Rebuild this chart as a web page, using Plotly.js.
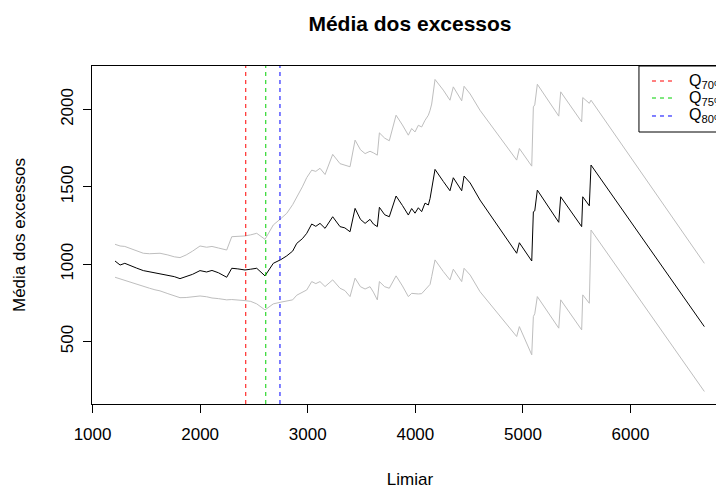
<!DOCTYPE html>
<html>
<head>
<meta charset="utf-8">
<script src="https://cdn.plot.ly/plotly-3.0.1.min.js"></script>
<style>html,body{margin:0;padding:0;overflow:hidden;background:#fff;width:716px;height:489px}#chart{width:760px;height:489px}</style>
</head>
<body>
<div id="chart"></div>
<script>
// Limiar (threshold) values
var limiar = [1209,1256,1300,1350,1410,1472,1530,1580,1627,1700,1760,1813,1870,1930,1999,2060,2110,2170,2247,2294,2350,2417,2470,2526,2603,2680,2750,2805,
  2860,2898,2950,2991,3037,3075,3114,3161,3232,3300,3345,3393,3440,3490,3533,3579,3610,3647,3666,3715,3758,3821,3880,3935,3966,3997,4028,4059,4090,4121,4137,4152,4183,4260,4322,4353,4431,4453,4510,4601,
  4942,4967,5082,5097,5110,5134,5333,5351,5546,5556,5617,5633,6686];
// Média dos excessos
var media = [1021,995,1006,990,975,959,952,945,937,930,920,907,920,935,959,950,960,945,916,974,970,963,968,974,925,1006,1030,1054,
  1085,1135,1165,1200,1260,1245,1264,1232,1307,1243,1235,1210,1361,1290,1264,1290,1260,1243,1368,1320,1307,1441,1380,1318,1360,1330,1365,1340,1395,1383,1425,1478,1613,1535,1475,1559,1475,1570,1525,1415,
  1071,1139,1021,1339,1345,1479,1271,1436,1243,1436,1378,1641,597];
// Limite superior
var icSup = [1129,1118,1115,1103,1090,1071,1068,1072,1071,1060,1048,1043,1060,1085,1118,1110,1115,1105,1092,1178,1180,1183,1190,1200,1161,1254,1295,1329,
  1385,1430,1500,1560,1608,1600,1620,1580,1710,1650,1640,1630,1802,1740,1715,1730,1720,1705,1849,1815,1798,1963,1900,1834,1877,1855,1898,1887,1930,1963,1995,2035,2194,2125,2060,2146,2056,2150,2100,1995,
  1673,1748,1634,2017,2030,2163,1957,2114,1920,2077,2040,2060,1006];
// Limite inferior
var icInf = [916,905,898,888,870,855,845,835,828,810,795,784,785,790,795,790,782,778,770,772,770,765,760,744,705,744,755,763,
  770,800,820,834,888,875,888,856,899,845,830,791,910,855,840,855,820,770,888,855,845,925,860,791,812,808,808,810,834,852,870,920,1028,953,899,968,888,974,930,823,
  533,597,415,662,680,791,587,770,576,802,748,1221,178];
// Quantis
var quantis = [2424, 2610, 2742];
var quantNomes = ['Q<sub>70%</sub>', 'Q<sub>75%</sub>', 'Q<sub>80%</sub>'];
var quantCores = ['#FF0000', '#00D000', '#0000FF'];
var xTicks = [1000, 2000, 3000, 4000, 5000, 6000];
var yTicks = [500, 1000, 1500, 2000];

var font = 'Liberation Sans, Arial, sans-serif';
var traces = [
  {x: limiar, y: icSup, mode: 'lines', line: {color: '#BEBEBE', width: 1}, showlegend: false, hoverinfo: 'skip'},
  {x: limiar, y: icInf, mode: 'lines', line: {color: '#BEBEBE', width: 1}, showlegend: false, hoverinfo: 'skip'},
  {x: limiar, y: media, mode: 'lines', line: {color: '#000000', width: 1}, showlegend: false}
];
var shapes = quantis.map(function (q, i) {
  return {type: 'line', xref: 'x', yref: 'paper', x0: q, x1: q, y0: 0, y1: 1,
    line: {color: quantCores[i], width: 1, dash: '4px,4px'}};
});
// legend (drawn by hand, R-style box in the top-right corner)
var legRows = [0.9556, 0.9053, 0.8521];
shapes.push({type: 'rect', xref: 'paper', yref: 'paper', x0: 0.860, x1: 1.0, y0: 0.8047, y1: 1.0,
  line: {color: '#000', width: 1}, fillcolor: '#fff', layer: 'above'});
var annotations = [];
quantNomes.forEach(function (nome, i) {
  shapes.push({type: 'line', xref: 'paper', yref: 'paper', x0: 0.8805, x1: 0.9167, y0: legRows[i], y1: legRows[i],
    line: {color: quantCores[i], width: 1, dash: '4px,4px'}, layer: 'above'});
  annotations.push({xref: 'paper', yref: 'paper', x: 0.935, y: legRows[i], xanchor: 'left', yanchor: 'middle',
    text: nome, showarrow: false, font: {family: font, size: 16, color: '#000'}});
});
var layout = {
  width: 760, height: 489,
  margin: {l: 92, r: 32, t: 66, b: 85},
  paper_bgcolor: '#fff', plot_bgcolor: '#fff',
  font: {family: font, size: 17, color: '#000'},
  title: {text: '<b>Média dos excessos</b>', font: {family: font, size: 21, color: '#000'}, x: 0.5, xref: 'paper', xanchor: 'center', y: 1 - 24/489, yanchor: 'middle'},
  xaxis: {range: [995, 6906], tickvals: xTicks, ticktext: xTicks.map(String), ticks: 'outside', ticklen: 8, tickcolor: '#000',
    showline: true, mirror: true, linecolor: '#000', linewidth: 1, showgrid: false, zeroline: false, ticklabelstandoff: 7,
    title: {text: 'Limiar', font: {size: 17}, standoff: 36}, tickfont: {size: 17}},
  yaxis: {range: [97, 2281], tickvals: yTicks, ticktext: yTicks.map(String), ticks: 'outside', ticklen: 8, tickcolor: '#000', tickangle: -90,
    showline: true, mirror: true, linecolor: '#000', linewidth: 1, showgrid: false, zeroline: false, ticklabelstandoff: 3,
    title: {text: 'Média dos excessos', font: {size: 17}, standoff: 28}, tickfont: {size: 17}},
  shapes: shapes,
  annotations: annotations,
  showlegend: false
};
Plotly.newPlot('chart', traces, layout, {staticPlot: true, displayModeBar: false});
</script>
</body>
</html>
